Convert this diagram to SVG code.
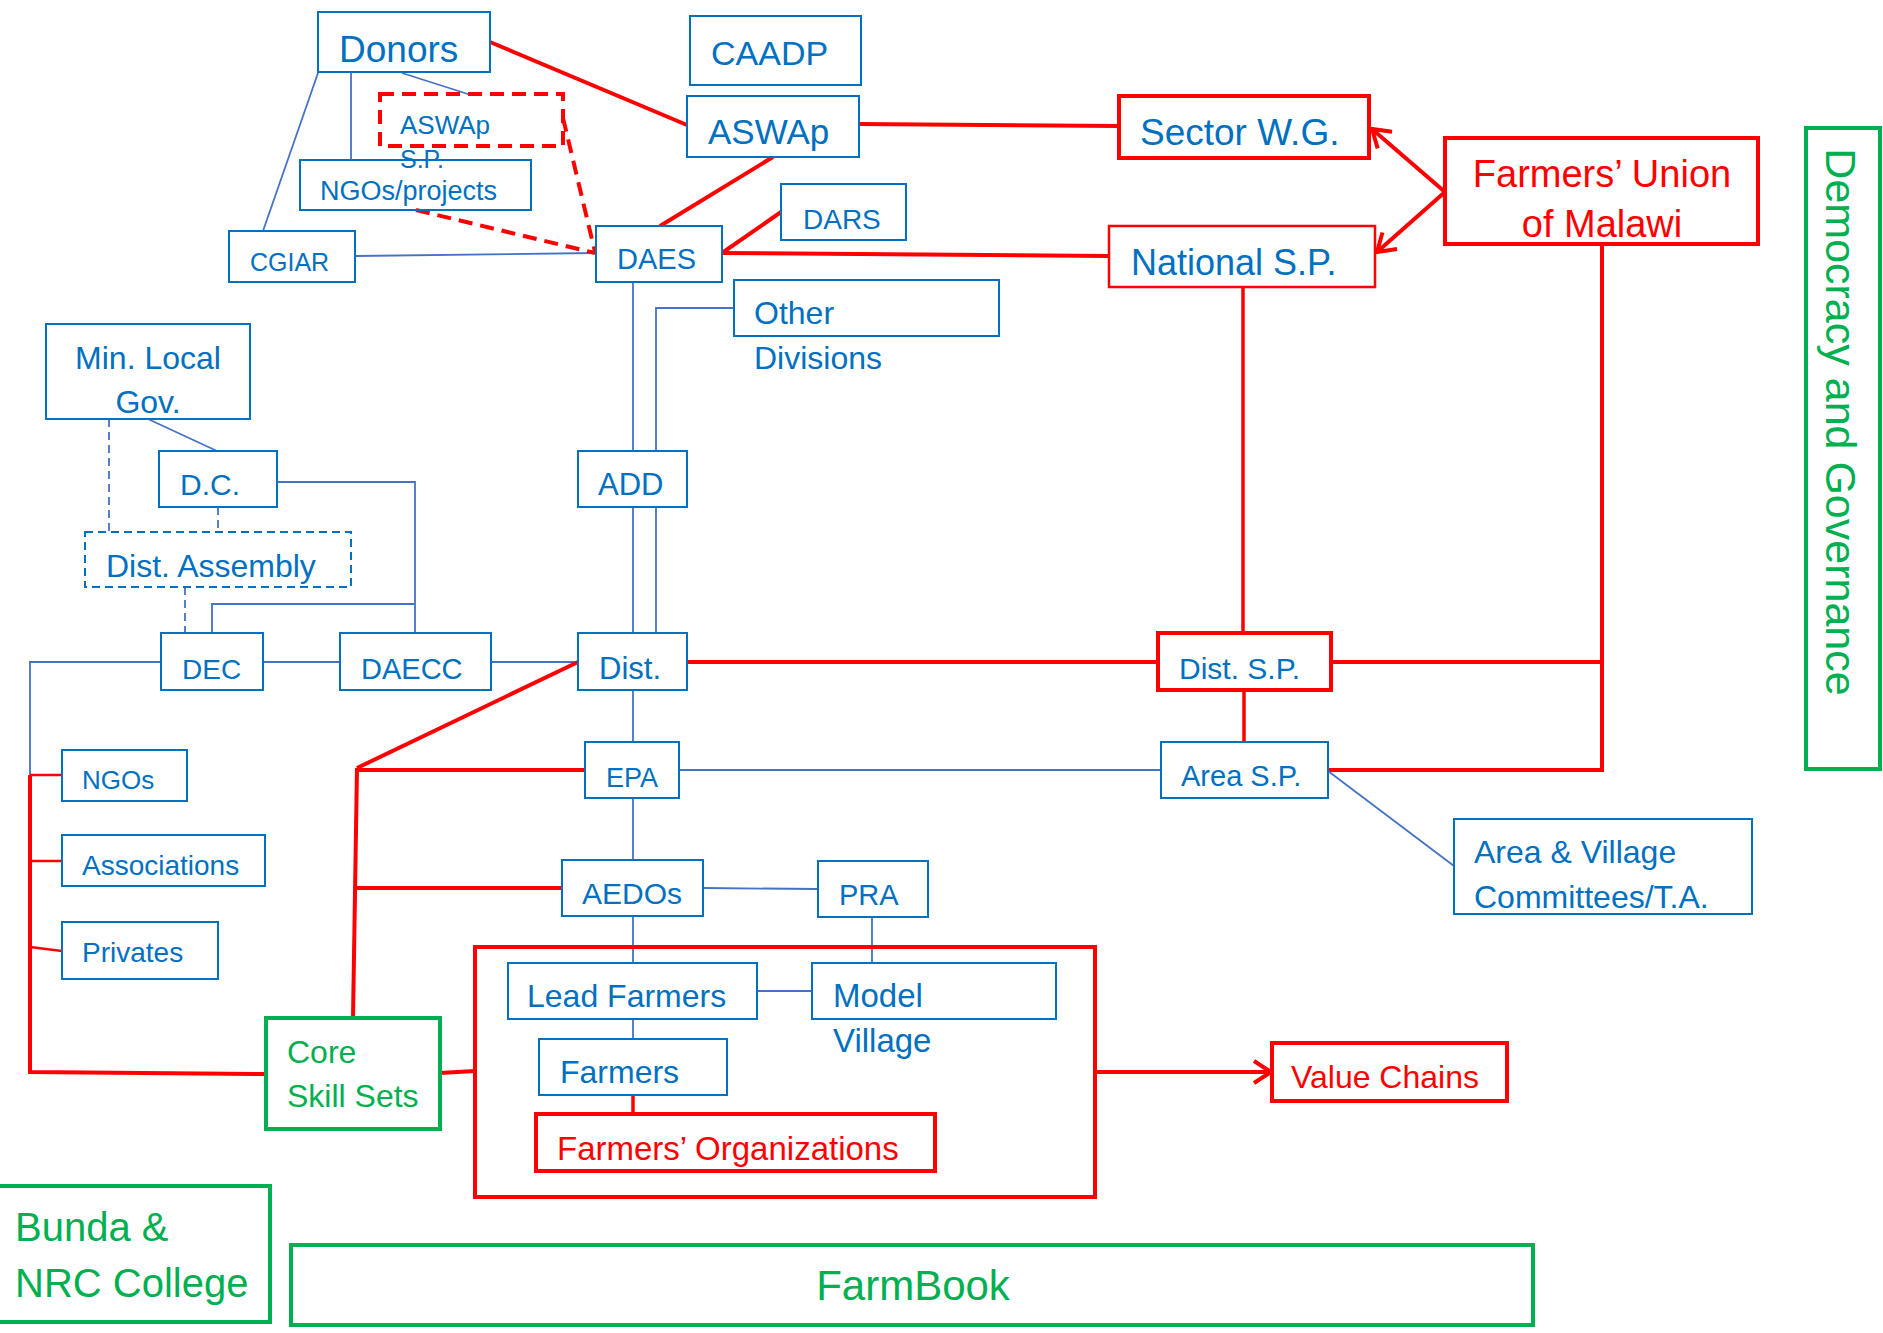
<svg xmlns="http://www.w3.org/2000/svg" width="1883" height="1333" viewBox="0 0 1883 1333">
<style>
text{font-family:"Liberation Sans",Arial,sans-serif}
.tb{fill:#0070C0}.tr{fill:#FF0000}.tg{fill:#00B050}
.bb{fill:#fff;stroke:#0070C0;stroke-width:2}
.bbd{fill:#fff;stroke:#0070C0;stroke-width:2;stroke-dasharray:8,5}
.br{fill:#fff;stroke:#FF0000;stroke-width:4}
.brm{fill:#fff;stroke:#FF0000;stroke-width:2.5}
.brd{fill:none;stroke:#FF0000;stroke-width:4;stroke-dasharray:14,8}
.bg{fill:#fff;stroke:#00B050;stroke-width:4}
.cb{stroke:#4472C4;stroke-width:1.8;fill:none}
.cbd{stroke:#4472C4;stroke-width:1.8;fill:none;stroke-dasharray:8,5}
.cr{stroke:#FF0000;stroke-width:4;fill:none}
.crm{stroke:#FF0000;stroke-width:3.5;fill:none}
.crt{stroke:#FF0000;stroke-width:2.5;fill:none}
.crd{stroke:#FF0000;stroke-width:4;fill:none;stroke-dasharray:14,8}
</style>
<defs>
<marker id="ar" markerUnits="userSpaceOnUse" markerWidth="24" markerHeight="26" refX="20" refY="13" orient="auto">
<path d="M3,2 L20,13 L3,24" fill="none" stroke="#FF0000" stroke-width="4"/>
</marker>
</defs>
<rect width="1883" height="1333" fill="#fff"/>

<g id="connectors">
<line class="cr" x1="490" y1="42" x2="687" y2="125"/>
<line class="cb" x1="402" y1="73" x2="471" y2="95"/>
<line class="cb" x1="351" y1="72" x2="351" y2="160"/>
<line class="cb" x1="318" y1="73" x2="263" y2="231"/>
<line class="cb" x1="355" y1="256" x2="596" y2="253"/>
<line class="crd" x1="563" y1="118" x2="595" y2="252"/>
<line class="crd" x1="416" y1="210" x2="595" y2="253"/>
<line class="cr" x1="773" y1="157" x2="660" y2="226"/>
<line class="cr" x1="722" y1="253" x2="781" y2="212"/>
<line class="cr" x1="722" y1="253" x2="1109" y2="256"/>
<line class="cr" x1="859" y1="124" x2="1119" y2="126"/>
<line class="cr" x1="1445" y1="192" x2="1372" y2="129" marker-end="url(#ar)"/>
<line class="cr" x1="1445" y1="192" x2="1377" y2="252" marker-end="url(#ar)"/>
<polyline class="cr" points="1602,244 1602,770 1328,770"/>
<line class="cr" x1="1331" y1="662" x2="1602" y2="662"/>
<line class="crm" x1="1243" y1="287" x2="1243" y2="633"/>
<line class="crm" x1="1244" y1="690" x2="1244" y2="742"/>
<line class="cr" x1="687" y1="662" x2="1158" y2="662"/>
<line class="cb" x1="679" y1="770" x2="1161" y2="770"/>
<line class="cb" x1="1328" y1="771" x2="1454" y2="866"/>
<line class="cb" x1="633" y1="282" x2="633" y2="451"/>
<polyline class="cb" points="734,308 656,308 656,451"/>
<line class="cb" x1="633" y1="507" x2="633" y2="633"/>
<line class="cb" x1="656" y1="507" x2="656" y2="633"/>
<line class="cb" x1="633" y1="690" x2="633" y2="742"/>
<line class="cb" x1="633" y1="798" x2="633" y2="860"/>
<line class="cb" x1="633" y1="916" x2="633" y2="963"/>
<line class="cb" x1="633" y1="1019" x2="633" y2="1039"/>
<line class="crm" x1="633" y1="1095" x2="633" y2="1114"/>
<line class="cb" x1="757" y1="991" x2="812" y2="991"/>
<line class="cb" x1="872" y1="917" x2="872" y2="963"/>
<line class="cb" x1="703" y1="888" x2="818" y2="889"/>
<line class="cb" x1="148" y1="419" x2="217" y2="451"/>
<line class="cbd" x1="109" y1="419" x2="109" y2="532"/>
<line class="cbd" x1="218" y1="507" x2="218" y2="532"/>
<line class="cbd" x1="185" y1="587" x2="185" y2="633"/>
<polyline class="cb" points="277,482 415,482 415,633"/>
<polyline class="cb" points="415,604 212,604 212,633"/>
<line class="cb" x1="263" y1="662" x2="340" y2="662"/>
<line class="cb" x1="491" y1="662" x2="578" y2="662"/>
<polyline class="cb" points="161,662 30,662 30,775"/>
<polyline class="cr" points="30,775 30,1072 266,1074"/>
<line class="crt" x1="30" y1="775" x2="62" y2="775"/>
<line class="crt" x1="30" y1="861" x2="62" y2="861"/>
<line class="crt" x1="30" y1="947" x2="62" y2="951"/>
<line class="cr" x1="578" y1="662" x2="357" y2="768"/>
<line class="cr" x1="357" y1="768" x2="353" y2="1018"/>
<line class="cr" x1="357" y1="770" x2="585" y2="770"/>
<line class="cr" x1="355" y1="888" x2="562" y2="888"/>
<line class="cr" x1="440" y1="1073" x2="475" y2="1071"/>
<line class="cr" x1="1095" y1="1072" x2="1271" y2="1072" marker-end="url(#ar)"/>
</g>

<g id="donors"><rect class="bb" x="318" y="12" width="172" height="60"/><text class="tb" x="339" y="62" font-size="37">Donors</text></g>
<g id="caadp"><rect class="bb" x="690" y="16" width="171" height="69"/><text class="tb" x="711" y="65" font-size="34">CAADP</text></g>
<g id="aswap"><rect class="bb" x="687" y="96" width="172" height="61"/><text class="tb" x="708" y="144" font-size="35">ASWAp</text></g>
<g id="aswap-sp"><rect class="brd" x="380" y="94" width="183" height="52"/><text class="tb" x="400" y="134" font-size="26">ASWAp</text><text class="tb" x="400" y="168" font-size="25">S.P.</text></g>
<g id="ngos-projects"><rect class="bb" x="300" y="160" width="231" height="50" fill-opacity="0"/><text class="tb" x="320" y="200" font-size="27">NGOs/projects</text></g>
<g id="cgiar"><rect class="bb" x="229" y="231" width="126" height="51"/><text class="tb" x="250" y="271" font-size="25">CGIAR</text></g>
<g id="daes"><rect class="bb" x="596" y="226" width="126" height="56"/><text class="tb" x="617" y="269" font-size="29">DAES</text></g>
<g id="dars"><rect class="bb" x="781" y="184" width="125" height="56"/><text class="tb" x="803" y="229" font-size="28">DARS</text></g>
<g id="sector-wg"><rect class="br" x="1119" y="96" width="250" height="62"/><text class="tb" x="1140" y="145" font-size="37">Sector W.G.</text></g>
<g id="national-sp"><rect class="brm" x="1109" y="226" width="266" height="61"/><text class="tb" x="1131" y="275" font-size="36">National S.P.</text></g>
<g id="fum"><rect class="br" x="1445" y="138" width="313" height="106"/><text class="tr" x="1602" y="187" font-size="38" text-anchor="middle">Farmers’ Union</text><text class="tr" x="1602" y="237" font-size="38" text-anchor="middle">of Malawi</text></g>
<g id="democracy"><rect class="bg" x="1806" y="128" width="74" height="641"/><text class="tg" transform="translate(1826,422) rotate(90)" font-size="43" text-anchor="middle">Democracy and Governance</text></g>
<g id="other-divisions"><rect class="bb" x="734" y="280" width="265" height="56"/><text class="tb" x="754" y="324" font-size="32">Other</text><text class="tb" x="754" y="369" font-size="32">Divisions</text></g>
<g id="min-local-gov"><rect class="bb" x="46" y="324" width="204" height="95"/><text class="tb" x="148" y="369" font-size="32" text-anchor="middle">Min. Local</text><text class="tb" x="148" y="413" font-size="32" text-anchor="middle">Gov.</text></g>
<g id="dc"><rect class="bb" x="159" y="451" width="118" height="56"/><text class="tb" x="180" y="495" font-size="30">D.C.</text></g>
<g id="add"><rect class="bb" x="578" y="451" width="109" height="56"/><text class="tb" x="598" y="495" font-size="31">ADD</text></g>
<g id="dist-assembly"><rect class="bbd" x="85" y="532" width="266" height="55"/><text class="tb" x="106" y="577" font-size="32">Dist. Assembly</text></g>
<g id="dec"><rect class="bb" x="161" y="633" width="102" height="57"/><text class="tb" x="182" y="679" font-size="28">DEC</text></g>
<g id="daecc"><rect class="bb" x="340" y="633" width="151" height="57"/><text class="tb" x="361" y="679" font-size="29">DAECC</text></g>
<g id="dist"><rect class="bb" x="578" y="633" width="109" height="57"/><text class="tb" x="599" y="679" font-size="31">Dist.</text></g>
<g id="dist-sp"><rect class="br" x="1158" y="633" width="173" height="57"/><text class="tb" x="1179" y="679" font-size="30">Dist. S.P.</text></g>
<g id="ngos"><rect class="bb" x="62" y="750" width="125" height="51"/><text class="tb" x="82" y="789" font-size="26">NGOs</text></g>
<g id="associations"><rect class="bb" x="62" y="835" width="203" height="51"/><text class="tb" x="82" y="875" font-size="28">Associations</text></g>
<g id="privates"><rect class="bb" x="62" y="922" width="156" height="57"/><text class="tb" x="82" y="962" font-size="28">Privates</text></g>
<g id="epa"><rect class="bb" x="585" y="742" width="94" height="56"/><text class="tb" x="606" y="787" font-size="27">EPA</text></g>
<g id="area-sp"><rect class="bb" x="1161" y="742" width="167" height="56"/><text class="tb" x="1181" y="786" font-size="29">Area S.P.</text></g>
<g id="area-village"><rect class="bb" x="1454" y="819" width="298" height="95"/><text class="tb" x="1474" y="863" font-size="32">Area &amp; Village</text><text class="tb" x="1474" y="908" font-size="32">Committees/T.A.</text></g>
<g id="aedos"><rect class="bb" x="562" y="860" width="141" height="56"/><text class="tb" x="582" y="904" font-size="30">AEDOs</text></g>
<g id="pra"><rect class="bb" x="818" y="861" width="110" height="56"/><text class="tb" x="839" y="905" font-size="29">PRA</text></g>
<g id="farmer-group"><rect class="br" x="475" y="947" width="620" height="250" fill-opacity="0"/></g>
<g id="lead-farmers"><rect class="bb" x="508" y="963" width="249" height="56"/><text class="tb" x="527" y="1007" font-size="32">Lead Farmers</text></g>
<g id="model-village"><rect class="bb" x="812" y="963" width="244" height="56"/><text class="tb" x="833" y="1007" font-size="33">Model</text><text class="tb" x="833" y="1052" font-size="33">Village</text></g>
<g id="farmers"><rect class="bb" x="539" y="1039" width="188" height="56"/><text class="tb" x="560" y="1083" font-size="32">Farmers</text></g>
<g id="farmers-orgs"><rect class="br" x="536" y="1114" width="399" height="57"/><text class="tr" x="557" y="1160" font-size="33">Farmers’ Organizations</text></g>
<g id="core-skill-sets"><rect class="bg" x="266" y="1018" width="174" height="111"/><text class="tg" x="287" y="1063" font-size="32">Core</text><text class="tg" x="287" y="1107" font-size="32">Skill Sets</text></g>
<g id="value-chains"><rect class="br" x="1272" y="1043" width="235" height="58"/><text class="tr" x="1291" y="1088" font-size="32">Value Chains</text></g>
<g id="bunda"><rect class="bg" x="-4" y="1186" width="274" height="136"/><text class="tg" x="15" y="1241" font-size="40">Bunda &amp;</text><text class="tg" x="15" y="1297" font-size="40">NRC College</text></g>
<g id="farmbook"><rect class="bg" x="291" y="1245" width="1242" height="80"/><text class="tg" x="913" y="1300" font-size="42" text-anchor="middle">FarmBook</text></g>
</svg>
